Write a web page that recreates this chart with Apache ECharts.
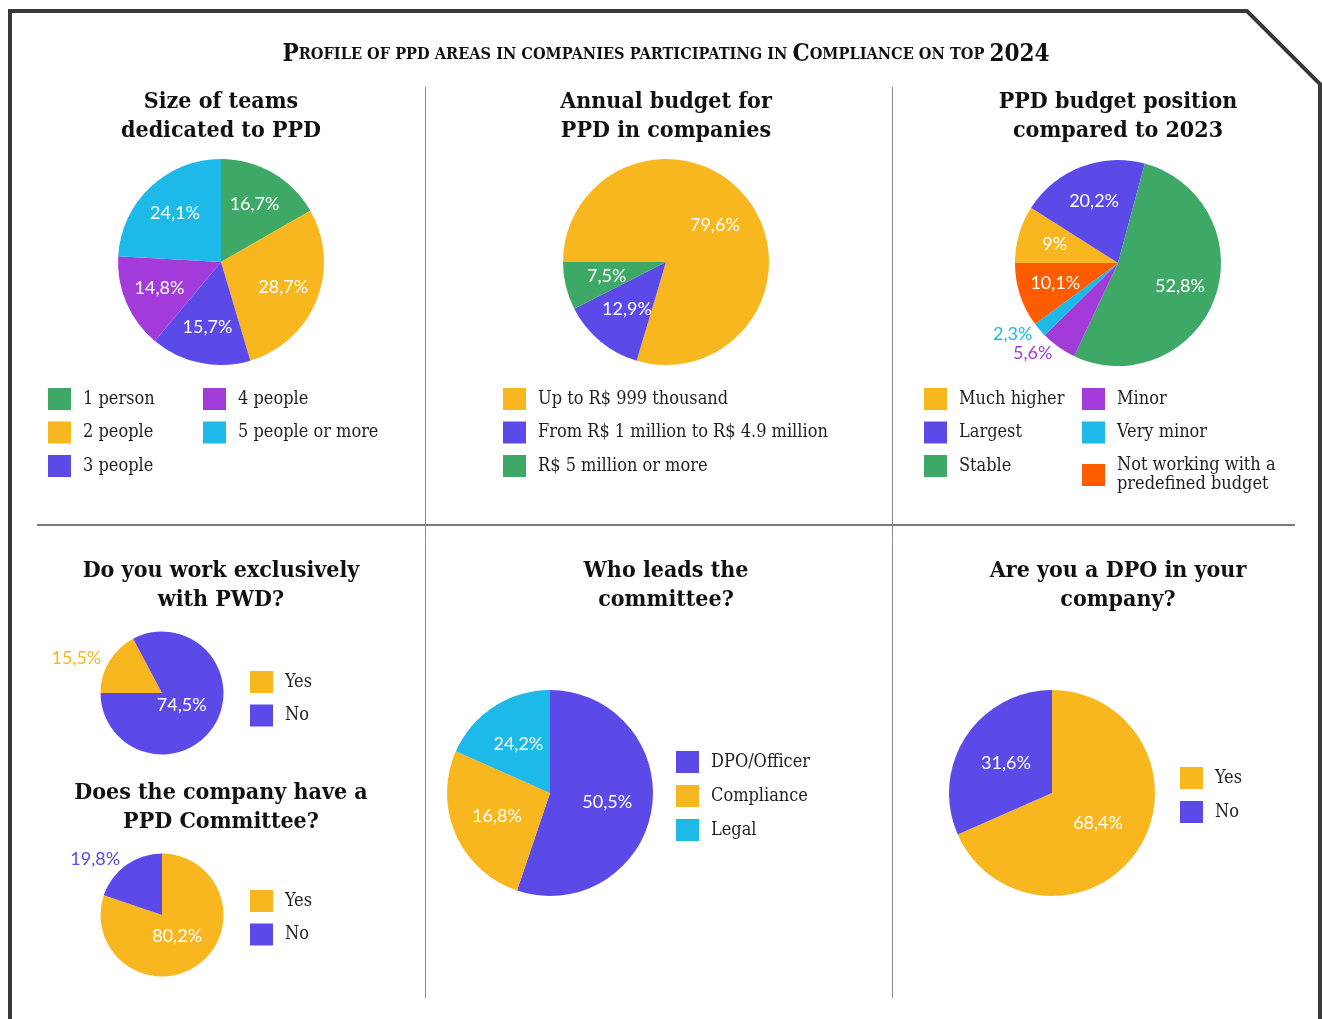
<!DOCTYPE html>
<html>
<head>
<meta charset="utf-8">
<title>Profile of PPD areas - Compliance on Top 2024</title>
<script src="https://cdn.jsdelivr.net/npm/echarts@6/dist/echarts.min.js"></script>
<style>
  html, body { margin: 0; padding: 0; background: #fff; }
  #chart { width: 1322px; height: 1019px; }
</style>
</head>
<body>
<div id="chart"></div>
<script>
// ---- data ----
var teamSizes = ['1 person', '2 people', '3 people', '4 people', '5 people or more'];
var teamShares = [16.7, 28.7, 15.7, 14.8, 24.1];

var budgetRanges = ['Up to R$ 999 thousand', 'From R$ 1 million to R$ 4.9 million', 'R$ 5 million or more'];
var budgetShares = [79.6, 12.9, 7.5];

var budgetPositions = ['Much higher', 'Largest', 'Stable', 'Minor', 'Very minor', 'Not working with a\npredefined budget'];
var positionShares = [9, 20.2, 52.8, 5.6, 2.3, 10.1];

var yesNo = ['Yes', 'No'];
var pwdShares = [15.5, 74.5];
var committeeShares = [80.2, 19.8];
var dpoShares = [68.4, 31.6];

var leaders = ['DPO/Officer', 'Compliance', 'Legal'];
// slice sizes as drawn; the printed labels of the two smaller slices are swapped in the original
var leaderShares = [50.5, 24.2, 16.8];
var leaderLabels = ['50,5%', '16,8%', '24,2%'];

// ---- look ----
var GREEN = '#3ea867', YELLOW = '#f9b71f', BLUE = '#5c4ae8',
    VIOLET = '#a33bdb', CYAN = '#1db9e9', ORANGE = '#ff5c00';
var serif = '"DejaVu Serif Condensed", "DejaVu Serif", serif';
var sans = 'Lato, "Noto Sans", sans-serif';

function pct(v) { return String(v).replace('.', ',') + '%'; }

// a pie is drawn by one series; its labels come from a transparent twin
// whose ring puts the "inside" labels at radius lr instead of r/2
function pie(names, values, colors, opt) {
  var labels = opt.labels || values.map(pct);
  var outside = opt.outside || [];
  var r0 = Math.max(0, 2 * opt.lr - opt.r);
  var r1 = Math.min(opt.r, 2 * opt.lr);
  var main = {
    type: 'pie', center: opt.center, radius: [0, opt.r], startAngle: opt.start,
    clockwise: true, label: { show: false }, labelLine: { show: false },
    data: names.map(function (n, i) {
      return { name: n, value: values[i], itemStyle: { color: colors[i] } };
    })
  };
  var ring = {
    type: 'pie', center: opt.center, radius: [r0, r1],
    startAngle: opt.start, clockwise: true, silent: true, avoidLabelOverlap: false,
    itemStyle: { color: 'rgba(0,0,0,0)' },
    label: {
      show: true, position: 'inside', color: '#fff', fontFamily: sans, fontSize: 18,
      formatter: function (p) { return labels[p.dataIndex]; }
    },
    labelLine: { show: false, length: 7, length2: 0 },
    data: names.map(function (n, i) {
      var d = { name: n, value: values[i] };
      if (outside.indexOf(i) >= 0) {
        d.label = { position: 'outside', color: colors[i], distanceToLabelLine: 2 };
        d.labelLine = { show: false, length: 7 + opt.r - r1, length2: 0 };
      }
      return d;
    })
  };
  return [main, ring];
}

function legend(names, left, top, gap) {
  return {
    data: names, left: left, top: top, orient: 'vertical', padding: 0,
    icon: 'rect', itemWidth: 23, itemHeight: 22, itemGap: gap || 11.5,
    textStyle: { fontFamily: serif, fontSize: 18, color: '#1f1f1f', padding: [0, 0, 0, 7], lineHeight: 19 }
  };
}

function heading(text, x, top) {
  return {
    text: text, left: x, top: top, textAlign: 'center', padding: 0,
    textStyle: { fontFamily: serif, fontSize: 23, fontWeight: 'bold', color: '#111', lineHeight: 29 }
  };
}

var series = [].concat(
  pie(teamSizes, teamShares, [GREEN, YELLOW, BLUE, VIOLET, CYAN],
      { center: [221, 262], r: 103, lr: 64, start: 90 }),
  pie(budgetRanges, budgetShares, [YELLOW, BLUE, GREEN],
      { center: [666, 262], r: 103, lr: 58, start: 180 }),
  pie(budgetPositions, positionShares, [YELLOW, BLUE, GREEN, VIOLET, CYAN, ORANGE],
      { center: [1118, 263], r: 103, lr: 63, start: 180, outside: [3, 4] }),
  pie(yesNo, pwdShares, [YELLOW, BLUE],
      { center: [162, 693], r: 61.5, lr: 20, start: 180, outside: [0] }),
  pie(yesNo, committeeShares, [YELLOW, BLUE],
      { center: [162, 915], r: 61.5, lr: 23, start: 90, outside: [1] }),
  pie(leaders, leaderShares, [BLUE, YELLOW, CYAN],
      { center: [550, 793], r: 103, lr: 55, start: 90, labels: leaderLabels }),
  pie(yesNo, dpoShares, [YELLOW, BLUE],
      { center: [1052, 793], r: 103, lr: 52, start: 90 })
);

var option = {
  backgroundColor: '#fff',
  animation: false,
  title: [
    {
      text: '{b|P}{s|ROFILE OF PPD AREAS IN COMPANIES PARTICIPATING IN }{b|C}{s|OMPLIANCE ON TOP }{b|2024}',
      left: 666, top: 43, textAlign: 'center', padding: 0,
      textStyle: {
        rich: {
          b: { fontFamily: serif, fontWeight: 'bold', fontSize: 24, color: '#111' },
          s: { fontFamily: serif, fontWeight: 'bold', fontSize: 16.2, color: '#111' }
        }
      }
    },
    heading('Size of teams\ndedicated to PPD', 221, 88),
    heading('Annual budget for\nPPD in companies', 666, 88),
    heading('PPD budget position\ncompared to 2023', 1118, 88),
    heading('Do you work exclusively\nwith PWD?', 221, 557),
    heading('Does the company have a\nPPD Committee?', 221, 779),
    heading('Who leads the\ncommittee?', 666, 557),
    heading('Are you a DPO in your\ncompany?', 1118, 557)
  ],
  legend: [
    legend(teamSizes.slice(0, 3), 48, 388),
    legend(teamSizes.slice(3), 203, 388),
    legend(budgetRanges, 503, 388),
    legend(budgetPositions.slice(0, 3), 924, 388),
    legend(budgetPositions.slice(3, 5), 1082, 388),
    legend(budgetPositions.slice(5), 1082, 456),
    legend(yesNo, 250, 671),
    legend(yesNo, 250, 890),
    legend(leaders, 676, 751, 12),
    legend(yesNo, 1180, 767, 12)
  ],
  graphic: [
    { type: 'polyline', z: 100,
      shape: { points: [[10, 1040], [10, 11], [1247, 11], [1320, 84], [1320, 1040]] },
      style: { stroke: '#3b3835', lineWidth: 4, fill: null } },
    { type: 'line', shape: { x1: 37, y1: 525, x2: 1295, y2: 525 },
      style: { stroke: '#7a7a7a', lineWidth: 2 } },
    { type: 'line', shape: { x1: 425.5, y1: 87, x2: 425.5, y2: 998 },
      style: { stroke: '#8a8a8a', lineWidth: 1 } },
    { type: 'line', shape: { x1: 892.5, y1: 87, x2: 892.5, y2: 998 },
      style: { stroke: '#8a8a8a', lineWidth: 1 } }
  ],
  series: series
};

var myChart = echarts.init(document.getElementById('chart'));
myChart.setOption(option);

window.onresize = function () {
  myChart.resize();
};
</script>
</body>
</html>
